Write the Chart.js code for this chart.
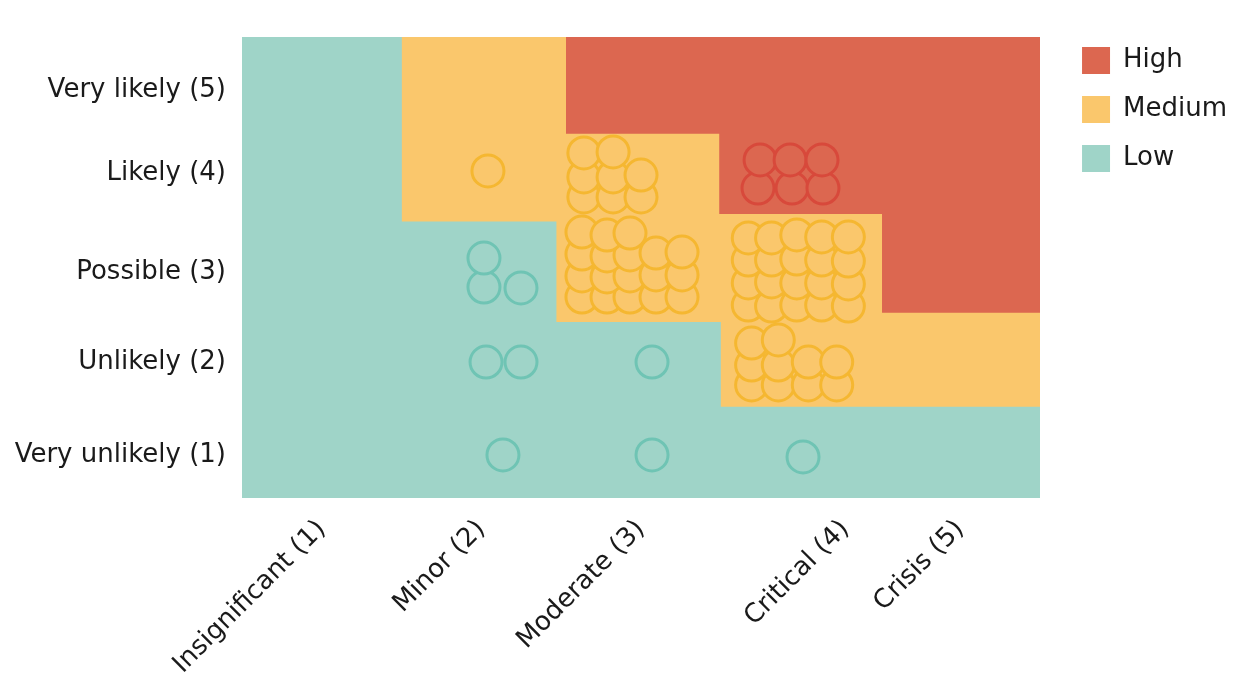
<!DOCTYPE html>
<html>
<head>
<meta charset="utf-8">
<script src="https://cdn.jsdelivr.net/npm/chart.js@4.4.0/dist/chart.umd.min.js"></script>
<style>
  html, body { margin: 0; padding: 0; background: #fff; }
  #wrap { width: 1245px; height: 676px; }
</style>
</head>
<body>
<div id="wrap"><canvas id="riskChart"></canvas></div>
<script>
// Axis categories and where their labels sit on the 0.5..5.5 scale
const impactLabels = ['Insignificant (1)', 'Minor (2)', 'Moderate (3)', 'Critical (4)', 'Crisis (5)'];
const impactTicks = [1, 2, 3, 4.28, 5];
const likelihoodLabels = ['Very unlikely (1)', 'Unlikely (2)', 'Possible (3)', 'Likely (4)', 'Very likely (5)'];
const likelihoodTicks = [0.96, 1.97, 2.95, 4.02, 4.92];

// Zone edges (staircases), each zone is filled from its edge up to the top
const highEdgeX = [2.53, 2.53, 3.49, 3.49, 4.51, 4.51, 5.5];
const highEdgeY = [5.5, 4.45, 4.45, 3.58, 3.58, 2.51, 2.51];
const mediumEdgeX = [1.5, 1.5, 2.47, 2.47, 3.5, 3.5, 5.5];
const mediumEdgeY = [5.5, 3.5, 3.5, 2.41, 2.41, 1.49, 1.49];
const lowEdgeX = [0.5, 5.5];
const lowEdgeY = [0.5, 0.5];

// Individual risks (impact, likelihood with jitter), bottom rows first
const lowRiskX = [2.135, 3.069, 4.015, 2.029, 2.248, 3.069, 2.016, 2.248, 2.016];
const lowRiskY = [0.967, 0.967, 0.945, 1.975, 1.975, 1.975, 2.788, 2.778, 3.103];

const mediumRiskX = [
    // Unlikely x Critical
    3.693, 3.860, 4.048, 4.226, 3.693, 3.860, 4.048, 4.226, 3.693, 3.860,
    // Possible x Moderate
    2.630, 2.787, 2.931, 3.094, 3.257, 2.630, 2.787, 2.931, 3.094, 3.257,
    2.630, 2.787, 2.931, 3.094, 3.257, 2.630, 2.787, 2.931,
    // Possible x Critical
    3.672, 3.818, 3.976, 4.132, 4.299, 3.672, 3.818, 3.976, 4.132, 4.299,
    3.672, 3.818, 3.976, 4.132, 4.299, 3.672, 3.818, 3.976, 4.132, 4.299,
    // Likely x Minor
    2.041,
    // Likely x Moderate
    2.642, 2.825, 3.000, 2.642, 2.825, 3.000, 2.642, 2.825
];
const mediumRiskY = [
    1.726, 1.726, 1.726, 1.726, 1.942, 1.942, 1.975, 1.975, 2.181, 2.214,
    2.680, 2.680, 2.680, 2.680, 2.680, 2.908, 2.897, 2.908, 2.919, 2.919,
    3.146, 3.125, 3.136, 3.157, 3.168, 3.385, 3.352, 3.374,
    2.593, 2.582, 2.593, 2.593, 2.582, 2.832, 2.843, 2.832, 2.832, 2.822,
    3.081, 3.081, 3.092, 3.081, 3.070, 3.320, 3.320, 3.353, 3.331, 3.331,
    4.047,
    3.765, 3.765, 3.765, 3.982, 3.982, 4.003, 4.242, 4.253
];

const highRiskX = [3.733, 3.946, 4.140, 3.746, 3.934, 4.134];
const highRiskY = [3.862, 3.862, 3.862, 4.166, 4.166, 4.166];

// Colours
const lowColor = '#9fd4c8';
const mediumColor = '#fac76c';
const highColor = '#dc6750';
const lowRing = '#6fc4b4';
const mediumRing = '#f5b731';
const highRing = '#d8493b';

const textFont = { family: 'DejaVu Sans', size: 26 };

function toPoints(xs, ys) {
    return xs.map((x, i) => ({ x: x, y: ys[i] }));
}

function zoneDataset(label, xs, ys, color, order) {
    return {
        type: 'line',
        label: label,
        data: toPoints(xs, ys),
        backgroundColor: color,
        borderColor: color,
        borderWidth: 0,
        pointRadius: 0,
        pointHitRadius: 0,
        fill: 'end',
        order: order
    };
}

function riskDataset(label, xs, ys, fillColor, ringColor) {
    return {
        type: 'scatter',
        label: label,
        data: toPoints(xs, ys),
        backgroundColor: fillColor,
        borderColor: ringColor,
        borderWidth: 3,
        pointRadius: 16,
        pointHoverRadius: 16,
        order: 0
    };
}

const zoneNames = ['High', 'Medium', 'Low'];

new Chart(document.getElementById('riskChart'), {
    type: 'scatter',
    data: {
        datasets: [
            riskDataset('High risks', highRiskX, highRiskY, highColor, highRing),
            riskDataset('Medium risks', mediumRiskX, mediumRiskY, mediumColor, mediumRing),
            riskDataset('Low risks', lowRiskX, lowRiskY, lowColor, lowRing),
            zoneDataset('High', highEdgeX, highEdgeY, highColor, 1),
            zoneDataset('Medium', mediumEdgeX, mediumEdgeY, mediumColor, 2),
            zoneDataset('Low', lowEdgeX, lowEdgeY, lowColor, 3)
        ]
    },
    options: {
        responsive: true,
        maintainAspectRatio: false,
        animation: false,
        layout: { padding: { top: 25, right: 8, bottom: 0, left: 0 } },
        plugins: {
            tooltip: { enabled: false },
            legend: {
                position: 'right',
                align: 'start',
                labels: {
                    boxWidth: 28,
                    boxHeight: 27,
                    padding: 22,
                    color: '#1a1a1a',
                    font: textFont,
                    filter: item => zoneNames.includes(item.text)
                }
            }
        },
        scales: {
            x: {
                type: 'linear',
                min: 0.5,
                max: 5.5,
                afterBuildTicks: axis => {
                    axis.ticks = impactTicks.map(v => ({ value: v }));
                },
                afterFit: axis => { axis.height = 178; },
                ticks: {
                    callback: (value, index) => impactLabels[index],
                    minRotation: 45,
                    maxRotation: 45,
                    autoSkip: false,
                    padding: 16,
                    color: '#1a1a1a',
                    font: textFont
                },
                grid: { display: false, drawTicks: false },
                border: { display: false }
            },
            y: {
                type: 'linear',
                min: 0.5,
                max: 5.5,
                afterBuildTicks: axis => {
                    axis.ticks = likelihoodTicks.map(v => ({ value: v }));
                },
                afterFit: axis => { axis.width = 242; },
                ticks: {
                    callback: (value, index) => likelihoodLabels[index],
                    autoSkip: false,
                    padding: 16,
                    color: '#1a1a1a',
                    font: textFont
                },
                grid: { display: false, drawTicks: false },
                border: { display: false }
            },
            // spacers: room above the plot and between plot and legend
            xTop: {
                position: 'top',
                afterFit: axis => { axis.height = 12; },
                ticks: { display: false },
                grid: { display: false, drawTicks: false },
                border: { display: false }
            },
            yRight: {
                position: 'right',
                afterFit: axis => { axis.width = 20; },
                ticks: { display: false },
                grid: { display: false, drawTicks: false },
                border: { display: false }
            }
        }
    }
});
</script>
</body>
</html>
